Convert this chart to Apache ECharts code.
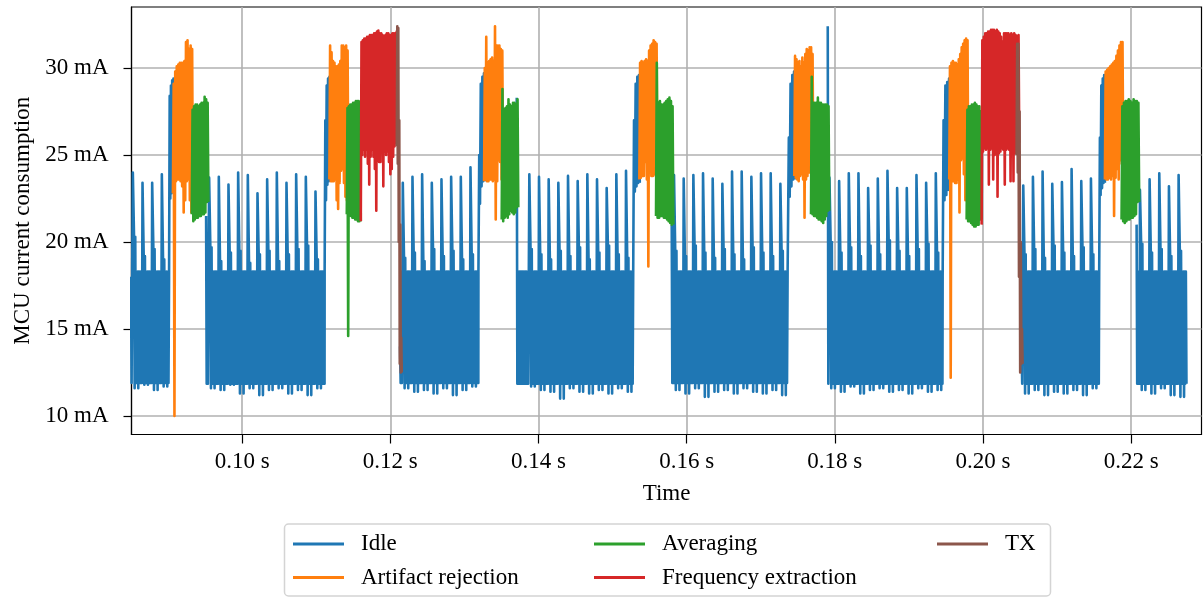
<!DOCTYPE html>
<html>
<head>
<meta charset="utf-8">
<script src="https://cdn.jsdelivr.net/npm/echarts@6/dist/echarts.min.js"></script>
<style>
  html, body { margin: 0; padding: 0; background: #fff; }
  #chart { width: 1203px; height: 597px; }
</style>
</head>
<body>
<div id="chart"></div>
<script>
// time axis ticks (s) and current ticks (mA)
const timeTicks = [0.10, 0.12, 0.14, 0.16, 0.18, 0.20, 0.22];
const currentTicks = [10, 15, 20, 25, 30];

// idle: periodic tall spikes over a dense 12..18 mA band
const spikePeriod = 0.001305;
const idleStart = [0.0850, 0.09514, 0.12132, 0.13707, 0.15799, 0.17905, 0.20522, 0.22074];
const idleEnd = [0.09014, 0.11114, 0.13190, 0.15279, 0.17368, 0.19456, 0.21569, 0.22749];
const idleFirstSpike = [0.08525, 0.09555, 0.12169, 0.13877, 0.15830, 0.17928, 0.20544, 0.22119];
const idleLead = [18.0, 21.5, 14.0, 28.3, 21.0, 32.4, 13.5, 21.0];
const idleBandTop = [18.3, 18.3, 18.3, 18.3, 18.3, 18.3, 18.3, 18.3];
const idleBandBottom = [11.9, 11.85, 11.9, 11.85, 11.9, 11.85, 11.85, 11.85];
const idlePeaks = [
  [24.0, 23.4, 23.4, 23.9],
  [23.7, 23.75, 23.3, 24.0, 23.85, 22.8, 23.6, 24.0, 23.4, 23.9, 23.75, 22.9],
  [23.4, 23.75, 23.9, 23.4, 23.6, 23.75, 23.75, 24.3],
  [23.9, 23.75, 23.6, 23.4, 23.8, 23.5, 23.9, 23.6, 23.1, 23.9, 24.1],
  [23.85, 23.65, 23.85, 23.95, 23.65, 23.35, 24.05, 24.05, 23.75, 23.95, 23.95, 23.35],
  [23.7, 23.5, 23.95, 23.95, 23.1, 23.65, 24.1, 23.1, 23.1, 23.85, 23.4, 23.95],
  [23.25, 23.75, 24.05, 23.35, 23.45, 24.2, 23.5, 23.65],
  [23.0, 23.6, 23.95, 23.2, 23.85]
];
// shoulder right after each tall spike
const idleMids = [
  [20.3, 19.2, 19.6, 19.0],
  [19.7, 18.9, 19.4, 19.5, 18.8, 19.3, 19.5, 18.9, 19.3, 19.6, 19.8, 19.0],
  [19.1, 19.4, 18.9, 19.6, 19.2, 19.5, 19.0, 19.3],
  [19.6, 19.3, 19.0, 19.5, 19.2, 19.7, 19.0, 19.4, 19.8, 19.3, 19.1],
  [19.5, 19.2, 19.8, 19.4, 19.1, 19.6, 19.3, 19.0, 19.7, 19.4, 19.2, 19.5],
  [20.0, 19.4, 19.7, 19.2, 19.8, 19.3, 20.1, 19.5, 19.2, 19.6, 19.9, 19.4],
  [19.3, 19.6, 19.1, 19.8, 19.4, 19.2, 19.7, 19.3],
  [19.9, 19.4, 19.6, 19.2, 19.5]
];
// deepest dip of the band within each spike period
const idleLows = [
  [11.6, 11.8, 11.5, 11.7],
  [11.6, 11.5, 11.8, 11.3, 11.6, 11.2, 11.5, 11.6, 11.3, 11.5, 11.2, 11.6],
  [11.6, 11.4, 11.5, 11.3, 11.6, 11.2, 11.5, 11.7],
  [11.7, 11.5, 11.4, 11.0, 11.6, 11.4, 11.3, 11.5, 11.3, 11.6, 11.4],
  [11.5, 11.3, 11.6, 11.1, 11.4, 11.5, 11.3, 11.6, 11.4, 11.3, 11.5, 11.2],
  [11.6, 11.4, 11.7, 11.3, 11.5, 11.6, 11.4, 11.5, 11.3, 11.6, 11.4, 11.5],
  [11.3, 11.5, 11.2, 11.4, 11.3, 11.5, 11.2, 11.6],
  [11.5, 11.3, 11.6, 11.2, 11.1]
];

// idle ramp-up right before each processing burst
const rampStart = [0.09014, 0.11114, 0.13190, 0.15279, 0.17368, 0.19456, 0.21569];
const rampEnd = [0.09082, 0.11188, 0.13275, 0.15368, 0.17462, 0.19555, 0.21646];
const rampTop = [
  [28.4, 29.0, 29.3, 29.4], [27.0, 29.0, 29.4, 29.5], [25.0, 29.1, 29.5, 29.7],
  [27.0, 29.1, 29.5, 29.6], [26.0, 29.1, 29.6, 29.8], [27.0, 29.0, 29.2, 29.4],
  [26.0, 29.0, 29.4, 29.6]
];
const rampBottom = [
  [18.0, 22.5, 22.8, 23.0], [18.3, 22.4, 23.3, 23.5], [18.3, 22.2, 23.2, 23.5],
  [18.2, 22.9, 23.2, 23.4], [18.3, 22.6, 23.2, 23.6], [18.0, 22.4, 22.7, 23.0],
  [18.2, 22.7, 23.1, 23.4]
];

// artifact rejection bursts
const artStart = [0.09066, 0.11178, 0.13266, 0.15362, 0.17454, 0.19545, 0.21646];
const artEnd = [0.09336, 0.11434, 0.13522, 0.15605, 0.17710, 0.19802, 0.21894];
const artTop = [
  [29.1, 29.8, 30.1, 30.2, 30.3, 30.3, 30.3, 30.4, 31.5, 31.6, 31.1, 31.3, 31.1],
  [31.3, 30.9, 30.4, 30.3, 30.1, 30.1, 30.2, 30.4, 31.3, 31.3, 31.2, 31.3, 31.0],
  [30.0, 31.8, 30.3, 30.4, 30.5, 30.6, 30.4, 32.4, 31.3, 31.3, 31.3, 31.1, 31.0],
  [30.3, 30.4, 30.3, 30.4, 30.5, 30.4, 31.0, 31.3, 31.4, 31.6, 31.5, 31.4],
  [30.7, 30.5, 30.3, 30.4, 30.1, 30.6, 30.3, 30.8, 31.1, 31.0, 31.2, 31.2, 30.8],
  [30.1, 30.3, 30.4, 30.3, 30.3, 30.2, 30.5, 30.8, 31.2, 31.4, 31.6, 31.7, 31.6],
  [29.8, 29.9, 30.0, 30.1, 30.2, 30.3, 30.4, 30.7, 31.0, 31.3, 31.5, 31.5]
];
const artBottom = [
  [22.8, 10.0, 23.5, 23.6, 23.6, 23.5, 23.2, 21.7, 22.4, 23.5, 23.6, 22.4, 21.7],
  [23.6, 23.5, 23.5, 23.5, 23.6, 22.4, 21.9, 23.4, 24.1, 24.2, 23.4, 22.6, 22.4],
  [23.5, 23.6, 23.5, 23.5, 23.6, 23.6, 23.5, 23.6, 21.3, 23.5, 24.7, 24.6, 23.6],
  [23.6, 23.7, 23.8, 23.8, 24.6, 23.6, 18.6, 24.6, 23.8, 23.8, 23.9, 23.8],
  [23.8, 23.7, 23.6, 23.5, 23.8, 23.9, 23.6, 21.4, 23.6, 23.8, 24.0, 24.0, 23.9],
  [23.6, 12.2, 23.5, 23.5, 23.4, 23.4, 23.6, 21.7, 24.7, 24.8, 23.9, 22.4, 22.6],
  [23.6, 23.6, 23.6, 23.7, 23.6, 23.8, 21.5, 23.7, 24.2, 23.6, 24.7, 24.5]
];

// averaging bursts
const avgStart = [0.09321, 0.11413, 0.13504, 0.15587, 0.17679, 0.19780, 0.21871];
const avgEnd = [0.09545, 0.11602, 0.13728, 0.15821, 0.17926, 0.19982, 0.22109];
const avgTop = [
  [27.6, 27.8, 27.9, 27.9, 27.8, 27.9, 28.0, 28.0, 28.35, 28.2, 28.0],
  [27.7, 27.8, 27.9, 27.9, 28.0, 28.0, 28.1, 28.1, 28.1, 28.0],
  [28.8, 27.6, 27.7, 27.8, 28.2, 27.9, 27.8, 28.0, 28.0, 27.9, 28.2],
  [30.3, 28.0, 28.1, 27.9, 27.9, 28.0, 28.1, 28.2, 28.3, 28.1, 27.8],
  [29.5, 28.0, 28.0, 28.0, 28.3, 28.0, 28.0, 27.9, 27.9, 27.9, 27.9, 27.8],
  [27.6, 27.8, 27.8, 27.9, 27.9, 28.0, 27.9, 27.8, 27.8, 27.5],
  [27.8, 28.0, 28.1, 28.1, 28.2, 28.1, 28.0, 28.2, 28.1, 28.1, 28.0]
];
const avgBottom = [
  [21.6, 21.2, 21.3, 21.4, 21.4, 21.5, 21.5, 21.6, 21.6, 21.7, 22.3],
  [21.6, 14.6, 21.6, 21.5, 21.4, 21.4, 21.3, 21.3, 21.2, 21.2],
  [21.3, 21.2, 21.4, 21.5, 21.4, 21.6, 21.8, 21.7, 21.6, 21.7, 22.0],
  [21.5, 21.4, 21.4, 21.5, 21.5, 21.4, 21.4, 21.3, 21.2, 21.1, 21.0],
  [21.6, 21.6, 21.5, 21.5, 21.4, 21.3, 21.3, 21.2, 21.1, 21.3, 21.5, 21.8],
  [21.3, 21.2, 21.2, 21.1, 21.0, 20.9, 20.9, 21.0, 21.0, 21.3],
  [21.3, 21.2, 21.1, 21.2, 21.3, 21.3, 21.4, 21.4, 21.5, 21.6, 22.3]
];

// frequency extraction bursts
const freqStart = [0.11602, 0.19982];
const freqEnd = [0.12096, 0.20490];
const freqTop = [
  [31.5, 31.6, 31.7, 31.7, 31.8, 31.8, 31.9, 31.9, 31.9, 32.0, 32.0, 32.1, 32.15,
   32.0, 32.0, 31.9, 31.8, 31.9, 32.0, 32.0, 31.9, 31.9, 32.0, 32.0, 32.0, 32.1],
  [31.6, 31.8, 32.0, 32.0, 32.1, 32.1, 32.2, 32.2, 32.2, 32.1, 32.2, 32.1, 32.0,
   31.8, 31.5, 32.0, 32.0, 32.0, 32.0, 31.9, 32.0, 31.9, 32.0, 31.9, 31.8, 31.9]
];
const freqBottom = [
  [21.2, 25.0, 25.3, 24.9, 25.3, 24.5, 23.3, 24.9, 25.3, 24.9, 24.2, 21.8, 24.8,
   24.6, 24.6, 25.3, 23.2, 25.2, 25.0, 25.2, 24.6, 23.9, 24.2, 24.9, 25.5, 25.7],
  [21.0, 25.2, 25.4, 25.3, 25.4, 23.3, 25.3, 25.4, 23.6, 25.0, 25.1, 22.6, 25.1,
   25.2, 25.4, 25.3, 23.3, 25.3, 25.4, 25.3, 23.5, 25.2, 23.5, 25.1, 25.4, 25.7]
];

// TX bursts
const txStart = [0.12088, 0.20454];
const txEnd = [0.12155, 0.20535];
const txTop = [[32.4, 32.3, 27.0, 21.0, 14.5], [31.4, 31.4, 27.5, 20.0, 15.0]];
const txBottom = [[25.5, 24.5, 20.0, 13.0, 12.5], [25.0, 24.0, 18.0, 12.5, 13.0]];

const FONT = 'Liberation Serif';
const COLORS = ['#1f77b4', '#ff7f0e', '#2ca02c', '#d62728', '#8c564b'];

// dense band drawn as a zigzag between bottom and top readings
function envelope(start, end, top, bottom) {
  const n = top.length, step = (end - start) / n;
  const pts = [];
  top.forEach((v, i) => {
    pts.push([start + i * step, bottom[i]]);
    pts.push([start + (i + 0.5) * step, v]);
  });
  pts.push([end, bottom[n - 1]]);
  return pts;
}

// one idle stretch: tall spike with shoulder, then band teeth
function idleSegment(k) {
  const dt = spikePeriod / 16;
  const top = idleBandTop[k], base = idleBandBottom[k];
  const pts = [[idleStart[k], idleLead[k]]];
  let up = false;
  for (let t = idleStart[k] + dt; t < idleFirstSpike[k] - dt / 2; t += dt) {
    pts.push([t, up ? top : base]);
    up = !up;
  }
  idlePeaks[k].forEach((peak, i) => {
    const lo = idleLows[k][i], mid = idleMids[k][i];
    const shape = [peak, peak, mid, lo, mid, base, top, base, top, lo, top, base, top, base, top, base];
    const t0 = idleFirstSpike[k] + i * spikePeriod;
    shape.forEach((v, j) => {
      const t = t0 + j * dt;
      if (t <= idleEnd[k]) pts.push([t, v]);
    });
  });
  return pts;
}

function bursts(starts, ends, tops, bottoms) {
  const out = [];
  starts.forEach((s, i) => {
    if (i > 0) out.push([s, '-']);
    out.push(...envelope(s, ends[i], tops[i], bottoms[i]));
  });
  return out;
}

const idleData = [];
idleStart.forEach((s, k) => {
  if (k > 0) idleData.push([s, '-']);
  idleData.push(...idleSegment(k));
  if (k < rampStart.length) {
    idleData.push(...envelope(rampStart[k], rampEnd[k], rampTop[k], rampBottom[k]));
  }
});

const seriesDefs = [
  ['Idle', idleData],
  ['Artifact rejection', bursts(artStart, artEnd, artTop, artBottom)],
  ['Averaging', bursts(avgStart, avgEnd, avgTop, avgBottom)],
  ['Frequency extraction', bursts(freqStart, freqEnd, freqTop, freqBottom)],
  ['TX', bursts(txStart, txEnd, txTop, txBottom)]
];

const chart = echarts.init(document.getElementById('chart'), null, { renderer: 'canvas' });

function legendColumn(left, names) {
  return {
    orient: 'vertical',
    left: left,
    top: 532,
    height: 64,
    padding: 0,
    itemWidth: 51,
    itemHeight: 3,
    itemGap: 9.5,
    icon: 'rect',
    selectedMode: false,
    data: names,
    textStyle: { fontFamily: FONT, fontSize: 23, color: '#000', lineHeight: 24, padding: [0, 0, 0, 12] }
  };
}

const option = {
  animation: false,
  backgroundColor: '#fff',
  color: COLORS,
  grid: {
    left: 131.5, right: 1.5, top: 7, bottom: 162.5,
    show: true, borderColor: '#000', borderWidth: 1.2, backgroundColor: 'transparent'
  },
  legend: [
    legendColumn(293, ['Idle', 'Artifact rejection']),
    legendColumn(594, ['Averaging', 'Frequency extraction']),
    legendColumn(937, ['TX'])
  ],
  graphic: [{
    type: 'rect', z: -1,
    shape: { x: 284.5, y: 524, width: 766, height: 72, r: 4 },
    style: { fill: '#fff', stroke: '#d4d4d4', lineWidth: 1.5 }
  }],
  xAxis: {
    type: 'value',
    min: 0.08507,
    max: 0.2295,
    name: 'Time',
    nameLocation: 'middle',
    nameGap: 48,
    nameTextStyle: { fontFamily: FONT, fontSize: 23, color: '#000' },
    axisLine: { onZero: false, lineStyle: { color: '#000', width: 1.2 } },
    axisTick: { customValues: timeTicks, length: 9, lineStyle: { color: '#000', width: 1.2 } },
    axisLabel: {
      customValues: timeTicks, margin: 16,
      fontFamily: FONT, fontSize: 23, color: '#000',
      formatter: v => v.toFixed(2) + ' s'
    },
    splitLine: { show: true, lineStyle: { color: '#b0b0b0', width: 1.6 } }
  },
  yAxis: {
    type: 'value',
    min: 8.936,
    max: 33.51,
    name: 'MCU current consumption',
    nameLocation: 'middle',
    nameRotate: 90,
    nameGap: 94,
    nameTextStyle: { fontFamily: FONT, fontSize: 23, color: '#000' },
    axisLine: { show: true, onZero: false, lineStyle: { color: '#000', width: 1.2 } },
    axisTick: { show: true, customValues: currentTicks, length: 8, lineStyle: { color: '#000', width: 1.2 } },
    axisLabel: {
      customValues: currentTicks, margin: 23,
      fontFamily: FONT, fontSize: 23, color: '#000',
      formatter: v => v + ' mA'
    },
    splitLine: { show: true, lineStyle: { color: '#b0b0b0', width: 1.6 } }
  },
  series: seriesDefs.map(([name, data]) => ({
    name,
    type: 'line',
    data,
    showSymbol: false,
    symbol: 'none',
    connectNulls: false,
    clip: true,
    lineStyle: { width: 2.6, join: 'round' },
    emphasis: { disabled: true }
  }))
};

chart.setOption(option);

window.addEventListener('resize', () => {
  chart.resize();
});
</script>
</body>
</html>
